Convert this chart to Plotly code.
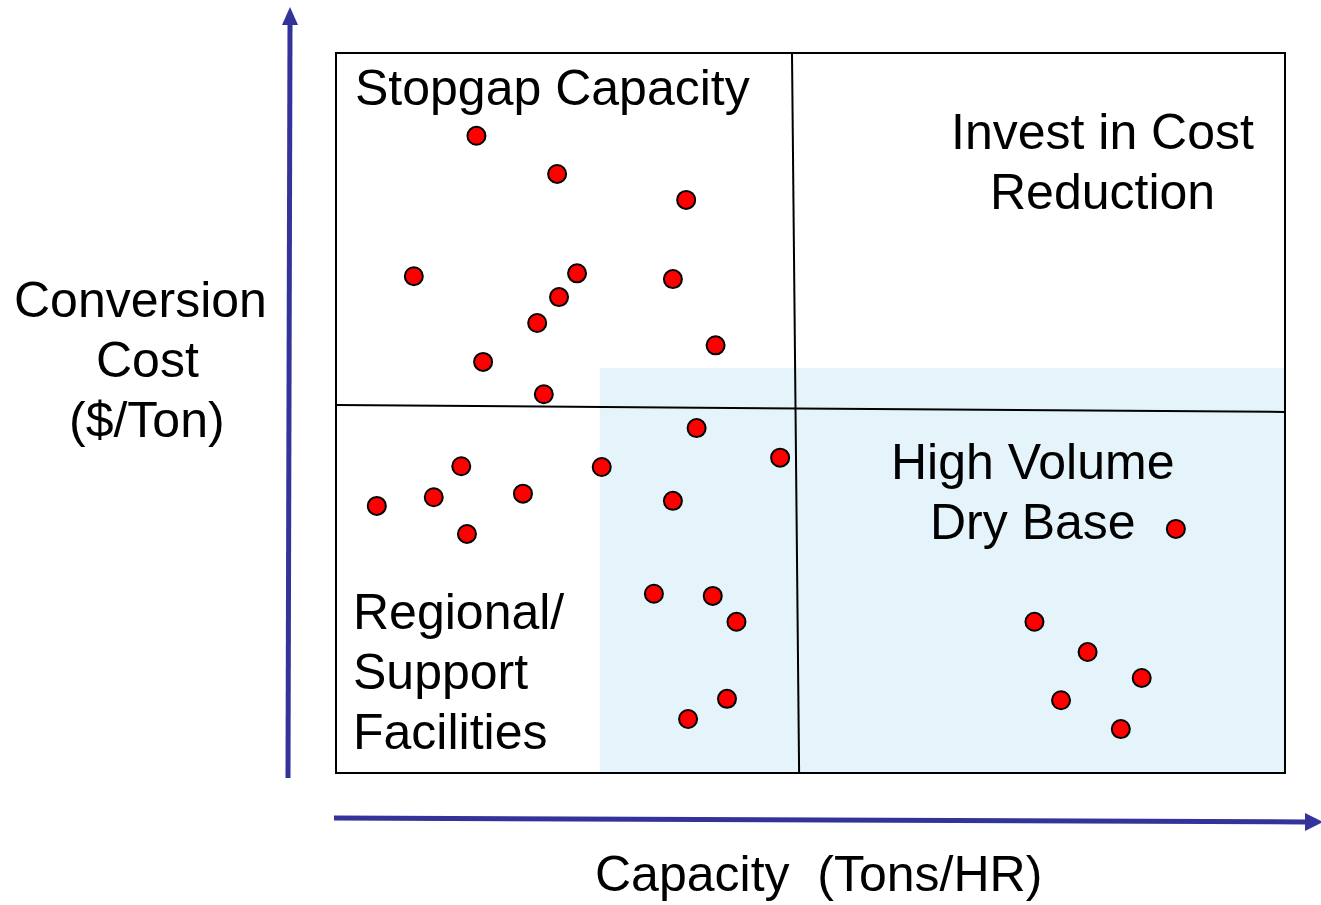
import plotly.graph_objects as go

# Plant portfolio: capacity vs conversion cost (both on a 0-100 relative scale)
capacity = [14.8, 23.3, 36.9, 8.2, 25.4, 35.5, 23.5, 21.2, 40.0, 15.5,
            21.9, 38.0, 46.8, 13.2, 28.0, 4.3, 10.3, 19.7, 13.8, 35.5,
            88.5, 33.5, 39.7, 42.2, 73.6, 79.2, 84.9, 76.4, 41.2, 37.1, 82.7]
cost = [88.5, 83.2, 79.6, 69.0, 69.4, 68.6, 66.1, 62.5, 59.4, 57.1,
        52.6, 47.9, 43.8, 42.6, 42.5, 37.1, 38.3, 38.8, 33.2, 37.8,
        33.9, 24.9, 24.6, 21.0, 21.0, 16.8, 13.2, 10.1, 10.3, 7.5, 6.1]

W, H = 1321, 905
L, R, T, B = 336, 36, 53, 132
PW, PH = W - L - R, H - T - B

FONT = "Arial, Liberation Sans, Arimo, sans-serif"
AXIS_BLUE = "#333399"
SHADE = "#E5F4FB"


def px(x):
    return (x - L) / PW


def py(y):
    return (H - B - y) / PH


fig = go.Figure()

fig.add_trace(go.Scatter(
    x=capacity, y=cost, mode="markers",
    marker=dict(size=18, color="#FF0000", line=dict(color="black", width=2)),
    hoverinfo="skip", showlegend=False, cliponaxis=False,
))

shapes = [
    # shaded high-volume zone
    dict(type="rect", xref="x", yref="y", x0=27.8, x1=100, y0=0, y1=56.25,
         fillcolor=SHADE, line=dict(width=0), layer="below"),
    # outer frame
    dict(type="rect", xref="paper", yref="paper", x0=0, x1=1, y0=0, y1=1,
         line=dict(color="black", width=2), layer="above"),
    # quadrant dividers
    dict(type="line", xref="x", yref="y", x0=48.05, y0=100, x1=48.8, y1=0,
         line=dict(color="black", width=2)),
    dict(type="line", xref="x", yref="y", x0=-0.5, y0=51.1, x1=100, y1=50.15,
         line=dict(color="black", width=2)),
    # y arrow
    dict(type="line", xref="paper", yref="paper",
         x0=px(288), y0=py(778), x1=px(290), y1=py(22),
         line=dict(color=AXIS_BLUE, width=5)),
    dict(type="path", xref="paper", yref="paper",
         path=f"M {px(290)} {py(7)} L {px(282)} {py(25)} L {px(298)} {py(25)} Z",
         fillcolor=AXIS_BLUE, line=dict(width=0)),
    # x arrow
    dict(type="line", xref="paper", yref="paper",
         x0=px(334), y0=py(818), x1=px(1306), y1=py(822),
         line=dict(color=AXIS_BLUE, width=5)),
    dict(type="path", xref="paper", yref="paper",
         path=f"M {px(1323)} {py(822)} L {px(1305)} {py(813)} L {px(1305)} {py(831)} Z",
         fillcolor=AXIS_BLUE, line=dict(width=0)),
]


def label(text, x, y, anchor="center", size=50):
    return dict(text=text, xref="paper", yref="paper", x=px(x), y=py(y),
                xanchor=anchor, yanchor="middle", showarrow=False,
                font=dict(family=FONT, size=size, color="black"))


annotations = [
    label("Stopgap Capacity", 353, 88, "left"),
    label("Invest in Cost", 1102, 132),
    label("Reduction", 1102, 192),
    label("High Volume", 1033, 462),
    label("Dry Base", 1033, 522),
    label("Regional/", 351, 612, "left"),
    label("Support", 351, 672, "left"),
    label("Facilities", 351, 732, "left"),
    label("Conversion", 140, 300),
    label("Cost", 147, 360),
    label("($/Ton)", 147, 420),
    label("Capacity  (Tons/HR)", 818, 874),
]

fig.update_layout(
    width=W, height=H,
    margin=dict(l=L, r=R, t=T, b=B, pad=0),
    paper_bgcolor="white", plot_bgcolor="white",
    xaxis=dict(range=[0, 100], visible=False, fixedrange=True),
    yaxis=dict(range=[0, 100], visible=False, fixedrange=True),
    shapes=shapes, annotations=annotations,
    showlegend=False,
)

fig.write_html("out.html", config=dict(displayModeBar=False))
